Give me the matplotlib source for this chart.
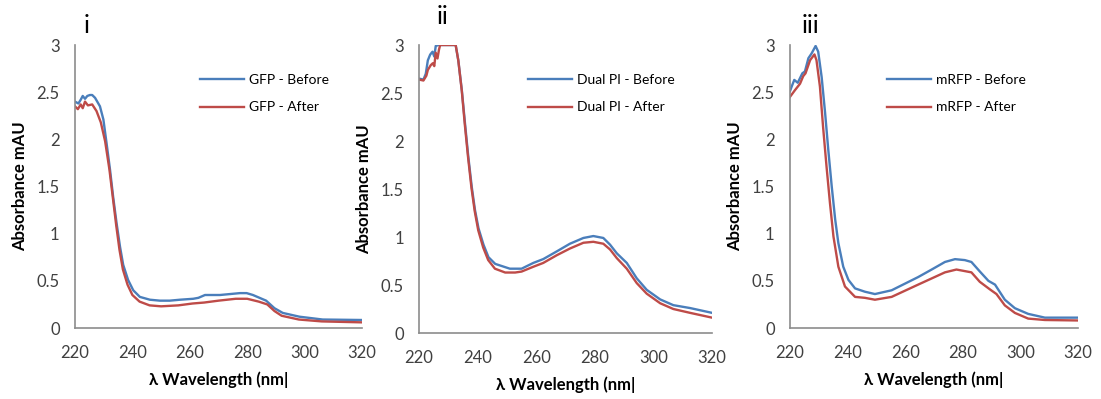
import matplotlib.pyplot as plt

plt.rcParams['font.family'] = ['Lato', 'DejaVu Sans']

# Panel i - GFP
gfp_x_before = [220, 221.2, 222, 222.7, 223.5, 224.3, 225.2, 226, 227, 228.7, 229.9, 231, 232.2,
                233.3, 234.5, 235.7, 236.8, 238.5, 240.3, 242.6, 246.1, 249.6, 253, 256.6, 261.2,
                263, 265.3, 270.5, 274, 277.5, 279.8, 282, 284.3, 286.6, 289.5, 292.4, 298.2,
                306.3, 320]
gfp_before = [2.40, 2.38, 2.42, 2.46, 2.43, 2.46, 2.47, 2.47, 2.44, 2.35, 2.21, 1.96, 1.68,
              1.39, 1.11, 0.86, 0.67, 0.51, 0.40, 0.33, 0.30, 0.29, 0.29, 0.30, 0.31,
              0.32, 0.35, 0.35, 0.36, 0.37, 0.37, 0.35, 0.32, 0.29, 0.21, 0.16, 0.12,
              0.09, 0.085]
gfp_x_after = [220, 221, 222, 222.7, 223.5, 224.5, 226, 227.5, 229, 230.5, 232, 233.2, 234.4,
               235.5, 236.7, 238.3, 240, 242.5, 246, 250, 256, 261, 265, 270, 276, 280, 284,
               287, 289.5, 292, 298, 306, 320]
gfp_after = [2.35, 2.32, 2.37, 2.33, 2.40, 2.36, 2.37, 2.30, 2.18, 1.98, 1.68, 1.38, 1.08,
             0.83, 0.62, 0.46, 0.35, 0.28, 0.24, 0.23, 0.24, 0.26, 0.27, 0.29, 0.31, 0.31, 0.28,
             0.25, 0.18, 0.13, 0.09, 0.07, 0.06]

# Panel ii - Dual PI
dual_x_before = [220, 221.5, 222.3, 223, 223.8, 224.6, 225.2, 225.7, 226.6, 232.5, 233.4, 234.6,
                 235.7, 236.8, 238, 239.1, 240.3, 242, 243.7, 246, 248, 251, 255, 259, 262.4,
                 267, 271.5, 276.1, 279.5, 282.9, 285.2, 287.5, 290.9, 294.3, 297.7, 302.3,
                 306.8, 312.5, 320]
dual_before = [2.65, 2.64, 2.70, 2.84, 2.90, 2.93, 2.88, 2.99, 3.0, 3.0, 2.84, 2.53,
               2.18, 1.84, 1.52, 1.28, 1.09, 0.92, 0.79, 0.72, 0.70, 0.67, 0.67, 0.73, 0.77,
               0.85, 0.93, 0.99, 1.01, 0.99, 0.92, 0.83, 0.73, 0.57, 0.45, 0.35,
               0.29, 0.26, 0.21]
dual_x_after = [220, 221.5, 222.5, 223, 224, 224.7, 225.2, 225.7, 226.3, 226.8, 227.2, 232.5,
                233.4, 234.6, 235.6, 236.7, 237.9, 239, 240.2, 241.9, 243.6, 245.9, 249.4,
                252.8, 255, 259, 262.4, 267, 271.5, 276.1, 279.5, 282.9, 285.2, 287.5, 290.9,
                294.3, 297.7, 302.3, 306.8, 312.5, 320]
dual_after = [2.64, 2.63, 2.68, 2.74, 2.79, 2.81, 2.78, 2.92, 2.86, 2.95, 3.0, 3.0,
              2.84, 2.52, 2.18, 1.84, 1.51, 1.27, 1.07, 0.89, 0.76, 0.67, 0.63,
              0.63, 0.64, 0.69, 0.73, 0.81, 0.88, 0.94, 0.95, 0.93, 0.87, 0.78, 0.67,
              0.52, 0.41, 0.31, 0.25, 0.21, 0.16]

# Panel iii - mRFP
rfp_x_before = [220, 220.6, 221.5, 222.7, 223.5, 224.3, 225.2, 226.4, 227.5, 228.9, 229.8, 231,
                232.2, 233.3, 234.5, 235.7, 236.8, 238.5, 240.3, 242.6, 246, 249.5, 255.3,
                259.9, 264.5, 269.2, 273.8, 277.3, 280.7, 283, 285.9, 288.9, 291.2, 294.6,
                298.1, 302.7, 308.5, 320]
rfp_before = [2.51, 2.56, 2.63, 2.60, 2.65, 2.70, 2.72, 2.86, 2.91, 2.99, 2.93, 2.66,
              2.28, 1.89, 1.50, 1.15, 0.90, 0.65, 0.51, 0.42, 0.385, 0.36, 0.40,
              0.47, 0.54, 0.62, 0.70, 0.73, 0.72, 0.70, 0.60, 0.50, 0.46, 0.30,
              0.21, 0.15, 0.11, 0.11]
rfp_x_after = [220, 221.7, 223.5, 224.6, 225.4, 227, 228.5, 229.2, 230.4, 231.5, 232.7, 233.9,
               235.1, 236.8, 239.1, 242.6, 246, 249.5, 255.3, 264.5, 273.8, 277.8, 283,
               285.9, 289.4, 291.7, 294.6, 298.1, 302.7, 308.5, 320]
rfp_after = [2.45, 2.52, 2.59, 2.67, 2.70, 2.84, 2.90, 2.84, 2.56, 2.13, 1.71, 1.32,
             0.97, 0.65, 0.44, 0.33, 0.32, 0.30, 0.33, 0.46, 0.59, 0.62, 0.59,
             0.49, 0.41, 0.36, 0.24, 0.16, 0.10, 0.085, 0.08]

panels = [
    ('i', 'GFP', gfp_x_before, gfp_before, gfp_x_after, gfp_after),
    ('ii', 'Dual PI', dual_x_before, dual_before, dual_x_after, dual_after),
    ('iii', 'mRFP', rfp_x_before, rfp_before, rfp_x_after, rfp_after),
]

x_ticks = [220, 240, 260, 280, 300, 320]
y_ticks = [0, 0.5, 1, 1.5, 2, 2.5, 3]
y_labels = ['0', '0.5', '1', '1.5', '2', '2.5', '3']

# axes boxes [left, bottom, width, height] in figure fractions
boxes = [
    [0.0681, 0.1779, 0.2607, 0.7093],
    [0.3806, 0.1654, 0.2661, 0.7218],
    [0.7175, 0.1779, 0.2616, 0.7093],
]
legend_anchor = [(0.435, 0.897), (0.372, 0.899), (0.337, 0.897)]
tag_pos = [(0.04, 1.07), (0.08, 1.10), (0.07, 1.07)]

BLUE = '#4A7EBB'
RED = '#BE4B48'

fig = plt.figure(figsize=(11.01, 3.99), dpi=100)

for i, (tag, name, xb, yb, xa, ya) in enumerate(panels):
    ax = fig.add_axes(boxes[i])
    ax.plot(xb, yb, color=BLUE, lw=1.7, label=name + ' - Before')
    ax.plot(xa, ya, color=RED, lw=1.7, label=name + ' - After')

    ax.set_xlim(220, 320)
    ax.set_ylim(0, 3)
    ax.set_xticks(x_ticks)
    ax.set_yticks(y_ticks)
    ax.set_yticklabels(y_labels)
    ax.tick_params(length=0, labelsize=12, colors='#404040', pad=11)
    ax.tick_params(axis='x', pad=12)

    for side in ['top', 'right']:
        ax.spines[side].set_visible(False)
    for side in ['left', 'bottom']:
        ax.spines[side].set_color('#8c8c8c')
        ax.spines[side].set_linewidth(1.2)

    ax.set_xlabel('λ Wavelength (nm|', fontsize=12, fontweight='bold', labelpad=8)
    ax.set_ylabel('Absorbance mAU', fontsize=12, fontweight='bold', labelpad=6)

    ax.legend(loc='upper left', bbox_to_anchor=legend_anchor[i], frameon=False,
              fontsize=10, handlelength=3.2, handletextpad=0.35, labelspacing=1.1,
              borderpad=0, borderaxespad=0)

    ax.text(tag_pos[i][0], tag_pos[i][1], tag, transform=ax.transAxes,
            fontsize=18, ha='center', va='center')

fig.savefig('out.png', dpi=100)
plt.close(fig)
